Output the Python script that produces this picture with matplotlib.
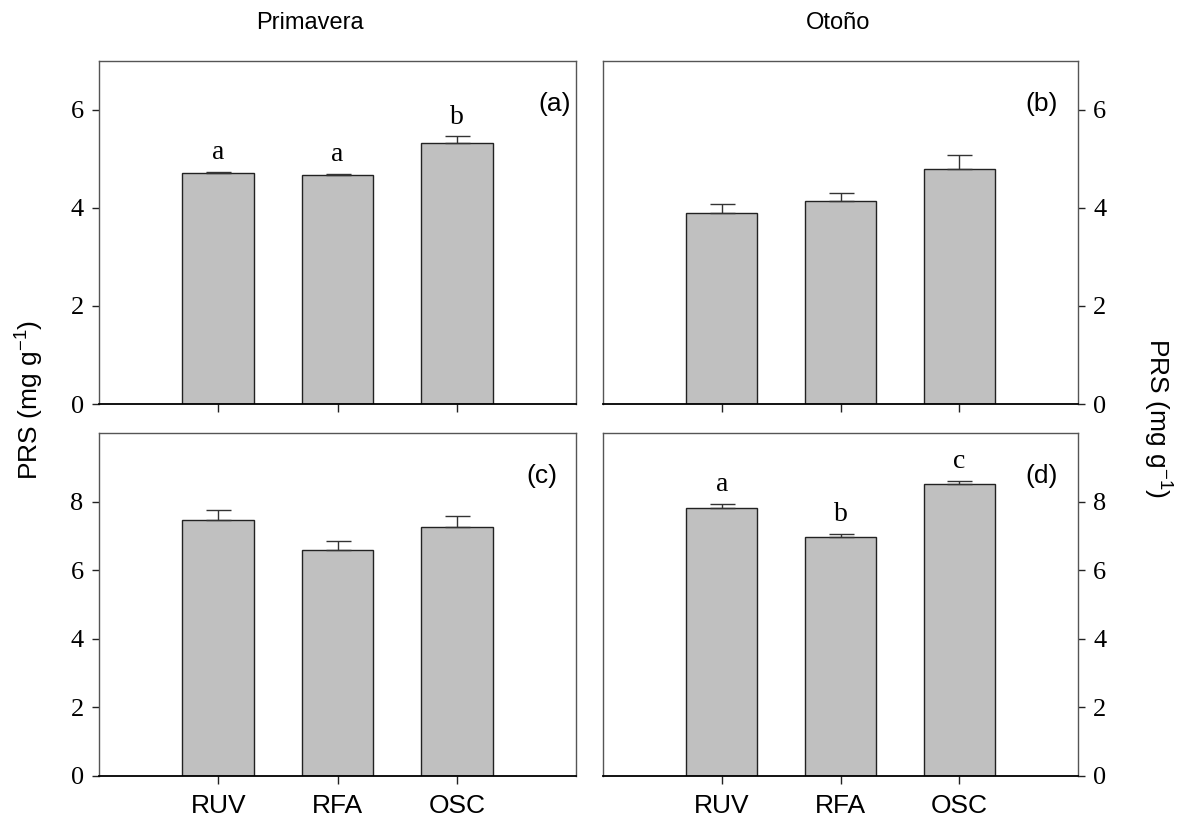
import matplotlib
matplotlib.use("Agg")
import matplotlib.pyplot as plt

# Treatments and measured PRS (mg g-1): means and standard errors per panel
treatments = ["RUV", "RFA", "OSC"]

prs_a = [4.71, 4.67, 5.33]
err_a = [0.03, 0.03, 0.13]
letters_a = ["a", "a", "b"]

prs_b = [3.89, 4.14, 4.79]
err_b = [0.20, 0.17, 0.29]

prs_c = [7.45, 6.60, 7.26]
err_c = [0.30, 0.26, 0.33]

prs_d = [7.82, 6.97, 8.50]
err_d = [0.10, 0.08, 0.10]
letters_d = ["a", "b", "c"]

season_titles = ["Primavera", "Otoño"]
panel_tags = ["(a)", "(b)", "(c)", "(d)"]

sans = ["Liberation Sans", "DejaVu Sans"]
serif = ["Liberation Serif", "DejaVu Serif"]

plt.rcParams["mathtext.default"] = "regular"
plt.rcParams["font.family"] = sans

W, H = 1185, 827
fig = plt.figure(figsize=(W / 100, H / 100), dpi=100)


def box(x0, y0, x1, y1):
    return [x0 / W, 1 - y1 / H, (x1 - x0) / W, (y1 - y0) / H]


ax_a = fig.add_axes(box(99, 61, 576, 404))
ax_b = fig.add_axes(box(603, 61, 1078, 404))
ax_c = fig.add_axes(box(99, 433, 576, 776))
ax_d = fig.add_axes(box(603, 433, 1078, 776))

# axis, means, errors, letters, y max, y ticks, y side, x labels, tag x
panels = [
    (ax_a, prs_a, err_a, letters_a, 7, [0, 2, 4, 6], "left", False, 0.99),
    (ax_b, prs_b, err_b, None, 7, [0, 2, 4, 6], "right", False, 0.957),
    (ax_c, prs_c, err_c, None, 10, [0, 2, 4, 6, 8], "left", True, 0.962),
    (ax_d, prs_d, err_d, letters_d, 10, [0, 2, 4, 6, 8], "right", True, 0.957),
]

pos = [1, 2, 3]
for (ax, vals, errs, letters, ymax, yt, yside, show_x, tx), tag in zip(panels, panel_tags):
    ax.bar(pos, vals, width=0.6, color="#c0c0c0", edgecolor="#222222",
           linewidth=1.0, zorder=2)
    ax.errorbar(pos, vals, yerr=[[0] * 3, errs], fmt="none", ecolor="#333333",
                elinewidth=1.0, capsize=9, capthick=1.0, zorder=3)
    ax.set_xlim(0, 4)
    ax.set_ylim(0, ymax)
    ax.set_yticks(yt)
    ax.set_xticks(pos)
    if show_x:
        ax.set_xticklabels(treatments, fontsize=19, family=sans)
    else:
        ax.set_xticklabels([])
    ax.tick_params(axis="x", direction="out", length=6, width=1, pad=7,
                   color="#222222")
    if yside == "right":
        ax.yaxis.tick_right()
    ax.tick_params(axis="y", direction="out", length=5, width=1, pad=6,
                   color="#222222", labelsize=19)
    for lab in ax.get_yticklabels():
        lab.set_fontfamily(serif)
    for s in ["top", "left", "right"]:
        ax.spines[s].set_color("#555555")
        ax.spines[s].set_linewidth(1.0)
    ax.spines["bottom"].set_color("#000000")
    ax.spines["bottom"].set_linewidth(1.3)
    ax.text(tx, 0.875, tag, transform=ax.transAxes, ha="right", va="center",
            fontsize=19, family=sans)
    if letters:
        for x, v, e, l in zip(pos, vals, errs, letters):
            ax.annotate(l, (x, v + e), xytext=(0, 5), textcoords="offset points",
                        ha="center", va="bottom", fontsize=20, family=serif)

fig.text(310 / W, 1 - 23 / H, season_titles[0], ha="center", va="center",
         fontsize=17, family=sans)
fig.text(838 / W, 1 - 23 / H, season_titles[1], ha="center", va="center",
         fontsize=17, family=sans)

fig.text(30 / W, 1 - 400 / H, "PRS (mg g$^{-1}$)", rotation=90, ha="center",
         va="center", fontsize=19, family=sans)
fig.text(1157 / W, 1 - 418 / H, "PRS (mg g$^{-1}$)", rotation=270, ha="center",
         va="center", fontsize=19, family=sans)

fig.savefig("out.png", dpi=100)
